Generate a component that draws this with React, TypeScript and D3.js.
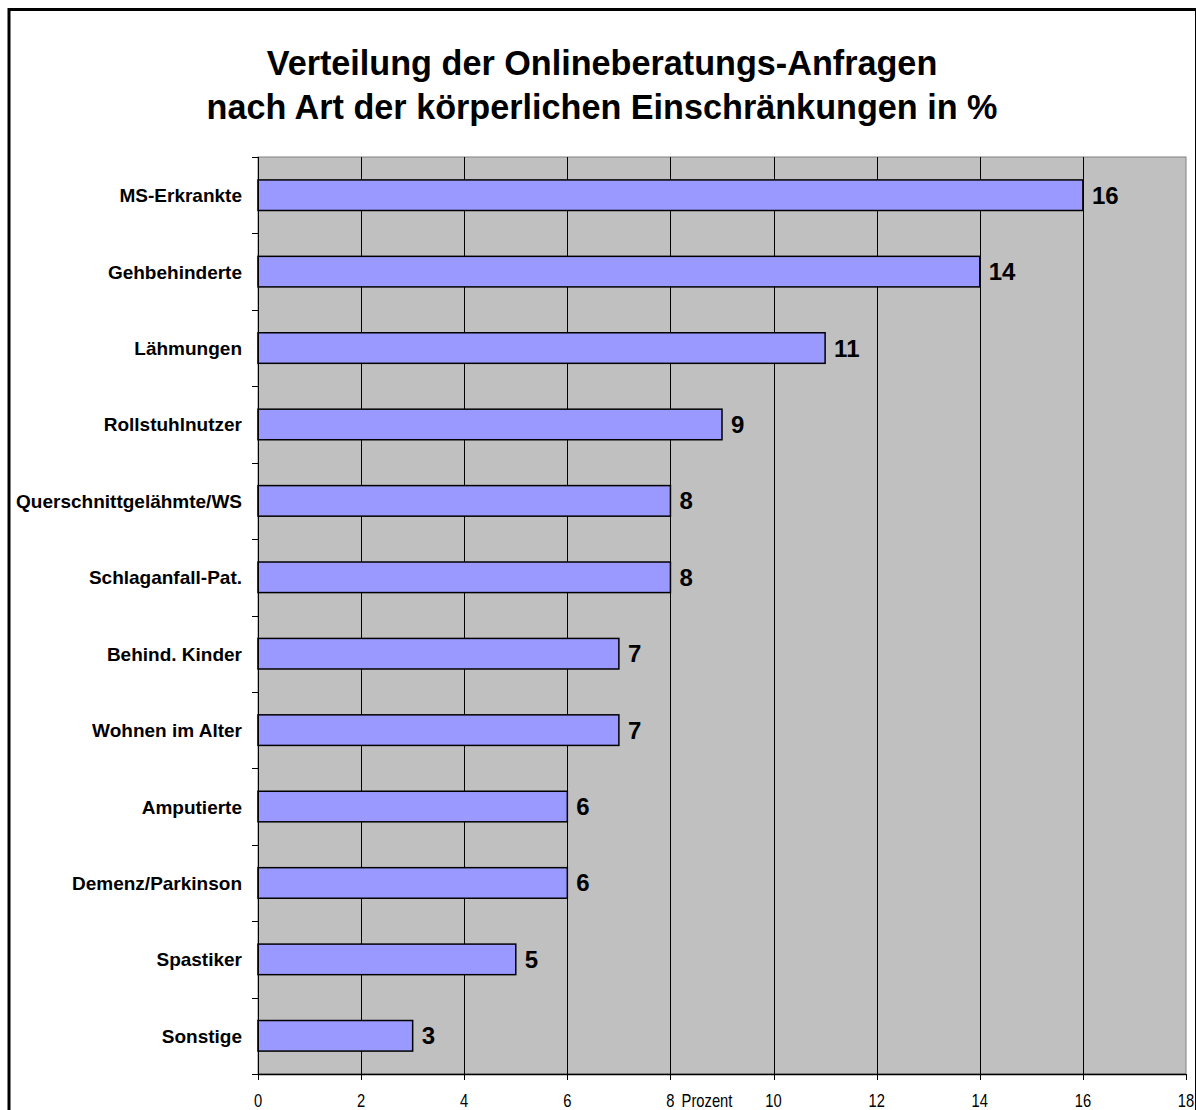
import React, { useEffect, useRef } from 'react';
import * as d3 from 'd3';

const categories = [
  'MS-Erkrankte',
  'Gehbehinderte',
  'Lähmungen',
  'Rollstuhlnutzer',
  'Querschnittgelähmte/WS',
  'Schlaganfall-Pat.',
  'Behind. Kinder',
  'Wohnen im Alter',
  'Amputierte',
  'Demenz/Parkinson',
  'Spastiker',
  'Sonstige',
];
const values = [16, 14, 11, 9, 8, 8, 7, 7, 6, 6, 5, 3];
const xTicks = [0, 2, 4, 6, 8, 10, 12, 14, 16, 18];
const titleLines = [
  'Verteilung der Onlineberatungs-Anfragen',
  'nach Art der körperlichen Einschränkungen in %',
];

const FONT = '"Liberation Sans", Arial, Helvetica, sans-serif';

export default function App() {
  const ref = useRef<SVGSVGElement>(null);

  useEffect(() => {
    const svg = d3.select(ref.current);
    svg.selectAll('*').remove();

    const left = 258, right = 1186, top = 157, bottom = 1074;

    const x = d3.scaleLinear().domain([0, 18]).range([left, right]);
    const y = d3.scaleBand<string>()
      .domain(categories)
      .range([top, bottom])
      .paddingInner(0.6)
      .paddingOuter(0.3);

    // outer frame
    svg.append('rect')
      .attr('x', 9).attr('y', 9.5)
      .attr('width', 1187.5).attr('height', 1200)
      .attr('fill', 'white')
      .attr('stroke', 'black')
      .attr('stroke-width', 3);

    // title
    svg.append('g')
      .selectAll('text')
      .data(titleLines)
      .enter()
      .append('text')
      .attr('x', 602)
      .attr('y', (d, i) => 75 + i * 44)
      .attr('text-anchor', 'middle')
      .attr('font-family', FONT)
      .attr('font-weight', 'bold')
      .attr('font-size', 34.2)
      .text(d => d);

    // plot area
    svg.append('rect')
      .attr('x', left).attr('y', top)
      .attr('width', right - left).attr('height', bottom - top)
      .attr('fill', '#c0c0c0')
      .attr('stroke', '#808080')
      .attr('stroke-width', 1);

    // gridlines
    svg.append('g')
      .selectAll('line')
      .data(xTicks.slice(1, -1))
      .enter()
      .append('line')
      .attr('x1', d => Math.round(x(d)) + 0.5)
      .attr('x2', d => Math.round(x(d)) + 0.5)
      .attr('y1', top).attr('y2', bottom)
      .attr('stroke', 'black')
      .attr('stroke-width', 1);

    // bars
    svg.append('g')
      .selectAll('rect')
      .data(values)
      .enter()
      .append('rect')
      .attr('x', x(0))
      .attr('y', (d, i) => y(categories[i])!)
      .attr('width', d => x(d) - x(0))
      .attr('height', y.bandwidth())
      .attr('fill', '#9999ff')
      .attr('stroke', 'black')
      .attr('stroke-width', 1.5);

    // value labels
    svg.append('g')
      .selectAll('text')
      .data(values)
      .enter()
      .append('text')
      .attr('x', d => x(d) + 9)
      .attr('y', (d, i) => y(categories[i])! + y.bandwidth() / 2 + 8.5)
      .attr('font-family', FONT)
      .attr('font-weight', 'bold')
      .attr('font-size', 24)
      .text(d => d);

    // y axis
    const step = y.step();
    svg.append('line')
      .attr('x1', left + 0.5).attr('x2', left + 0.5)
      .attr('y1', top).attr('y2', bottom)
      .attr('stroke', 'black');
    svg.append('g')
      .selectAll('line')
      .data(d3.range(categories.length + 1))
      .enter()
      .append('line')
      .attr('x1', left - 6).attr('x2', left)
      .attr('y1', d => Math.round(top + d * step) + 0.5)
      .attr('y2', d => Math.round(top + d * step) + 0.5)
      .attr('stroke', 'black');
    svg.append('g')
      .selectAll('text')
      .data(categories)
      .enter()
      .append('text')
      .attr('x', 242)
      .attr('y', d => y(d)! + y.bandwidth() / 2 + 7)
      .attr('text-anchor', 'end')
      .attr('font-family', FONT)
      .attr('font-weight', 'bold')
      .attr('font-size', 19)
      .text(d => d);

    // x axis
    svg.append('line')
      .attr('x1', left).attr('x2', right)
      .attr('y1', bottom + 0.5).attr('y2', bottom + 0.5)
      .attr('stroke', 'black')
      .attr('stroke-width', 1.5);
    svg.append('g')
      .selectAll('line')
      .data(xTicks)
      .enter()
      .append('line')
      .attr('x1', d => Math.round(x(d)) + 0.5)
      .attr('x2', d => Math.round(x(d)) + 0.5)
      .attr('y1', bottom).attr('y2', bottom + 6)
      .attr('stroke', 'black');
    // narrow tick labels: squeeze a regular face horizontally
    svg.append('g')
      .selectAll('text')
      .data(xTicks)
      .enter()
      .append('text')
      .attr('transform', d => 'translate(' + x(d) + ',1106.5) scale(0.82,1)')
      .attr('text-anchor', 'middle')
      .attr('font-family', FONT)
      .attr('font-size', 18)
      .text(d => d);

    svg.append('text')
      .attr('transform', 'translate(707,1106.5) scale(0.82,1)')
      .attr('text-anchor', 'middle')
      .attr('font-family', FONT)
      .attr('font-size', 18)
      .text('Prozent');
  }, []);

  return (
    <svg
      ref={ref}
      width={1196}
      height={1110}
      style={{ position: 'absolute', left: 0, top: 0, background: 'white' }}
    />
  );
}
